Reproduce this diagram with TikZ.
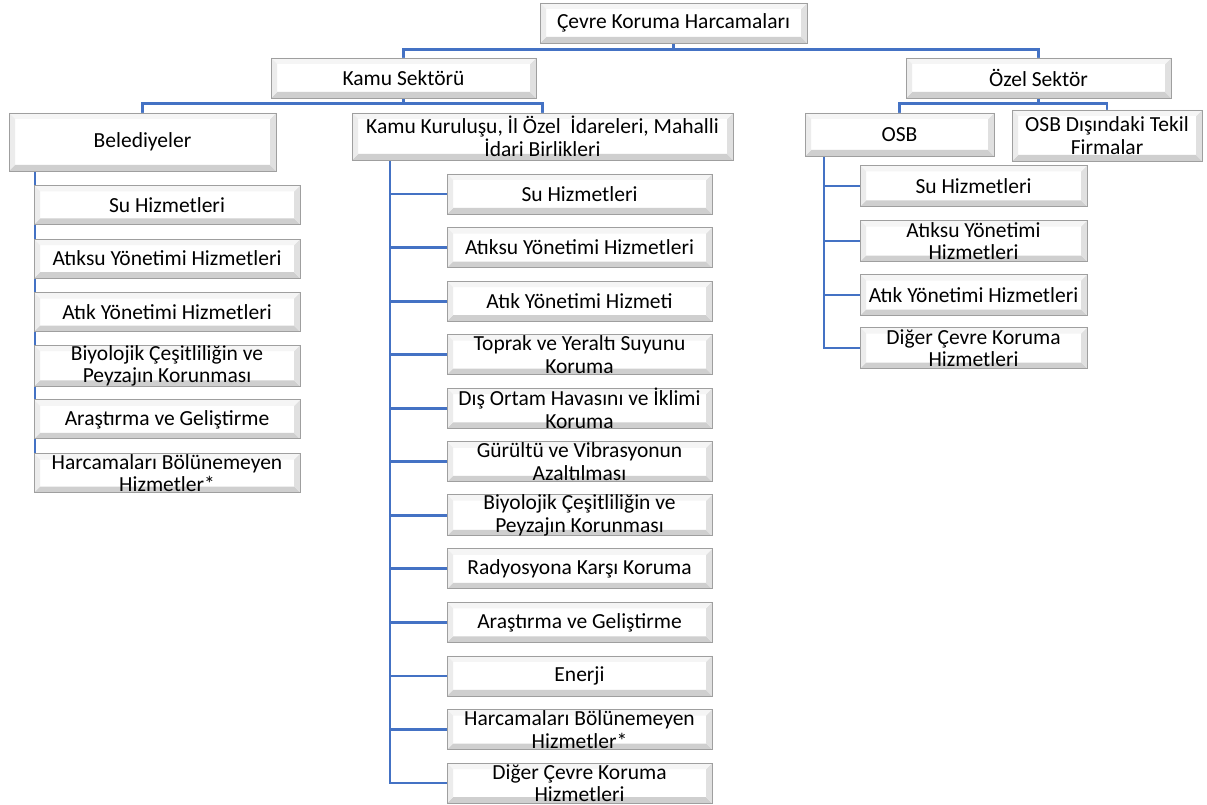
\documentclass[tikz,border=0pt]{standalone}
\usepackage{fontspec}
\setmainfont{Carlito}
\usetikzlibrary{backgrounds}
\definecolor{conn}{HTML}{4472C4}
\tikzset{
  bevel/.style={draw=gray!75, line width=0.9pt, fill=white,
    path picture={
      \coordinate (pSW) at (path picture bounding box.south west);
      \coordinate (pNE) at (path picture bounding box.north east);
      \coordinate (pSE) at (path picture bounding box.south east);
      \coordinate (pNW) at (path picture bounding box.north west);
      \fill[gray!38] (pSW) -- (pSE) -- ([shift={(-6pt,6pt)}]pSE) -- ([shift={(6pt,6pt)}]pSW) -- cycle;
      \fill[gray!24] (pSE) -- (pNE) -- ([shift={(-6pt,-6pt)}]pNE) -- ([shift={(-6pt,6pt)}]pSE) -- cycle;
      \fill[gray!8] (pNE) -- (pNW) -- ([shift={(6pt,-6pt)}]pNW) -- ([shift={(-6pt,-6pt)}]pNE) -- cycle;
      \fill[gray!15] (pNW) -- (pSW) -- ([shift={(6pt,6pt)}]pSW) -- ([shift={(6pt,-6pt)}]pNW) -- cycle;
    }},
  box/.style={bevel, inner sep=0pt, align=center,
    font=\fontsize{21.5}{22.5}\selectfont},
  conline/.style={draw=conn, line width=2.8pt},
}
\begin{document}
\begin{tikzpicture}[x=1pt,y=-1pt]
\useasboundingbox (0,0) rectangle (1207,805);

% top levels
\node[box, minimum width=267pt, minimum height=40pt] (top) at (673.5,23) {Çevre Koruma Harcamaları};
\node[box, minimum width=265pt, minimum height=40pt] (kamu) at (403.5,78) {Kamu Sektörü};
\node[box, minimum width=265pt, minimum height=40pt] (ozel) at (1038.5,78) {Özel Sektör};
\node[box, minimum width=267pt, minimum height=58pt] (bel) at (142.5,142) {Belediyeler};
\node[box, minimum width=381pt, minimum height=47pt] (kk) at (542.5,136.5) {Kamu Kuruluşu, İl Özel~ İdareleri, Mahalli\\İdari Birlikleri};
\node[box, minimum width=189pt, minimum height=43pt] (osb) at (899.5,134.5) {OSB};
\node[box, minimum width=190pt, minimum height=51pt] (tekil) at (1107,135.5) {OSB Dışındaki Tekil\\Firmalar};

% Belediyeler children
\foreach \t [count=\i] in {{Su Hizmetleri},{Atıksu Yönetimi Hizmetleri},{Atık Yönetimi Hizmetleri},{Biyolojik Çeşitliliğin ve\\Peyzajın Korunması},{Araştırma ve Geliştirme},{Harcamaları Bölünemeyen\\Hizmetler*}}
  \node[box, minimum width=266pt, minimum height=39pt] (b\i) at (167,{205+53.6*(\i-1)}) {\t};

% Kamu kurulusu children
\foreach \t [count=\i] in {{Su Hizmetleri},{Atıksu Yönetimi Hizmetleri},{Atık Yönetimi Hizmeti},{Toprak ve Yeraltı Suyunu\\Koruma},{Dış Ortam Havasını ve İklimi\\Koruma},{Gürültü ve Vibrasyonun\\Azaltılması},{Biyolojik Çeşitliliğin ve\\Peyzajın Korunması},{Radyosyona Karşı Koruma},{Araştırma ve Geliştirme},{Enerji},{Harcamaları Bölünemeyen\\Hizmetler*},{Diğer Çevre Koruma\\Hizmetleri}}
  \node[box, minimum width=265pt, minimum height=40pt] (k\i) at (579.5,{194+53.55*(\i-1)}) {\t};

% OSB children
\node[box, minimum width=227pt, minimum height=41pt] (o1) at (973.5,186) {Su Hizmetleri};
\node[box, minimum width=227pt, minimum height=41pt] (o2) at (973.5,241) {Atıksu Yönetimi\\Hizmetleri};
\node[box, minimum width=227pt, minimum height=41pt] (o3) at (973.5,295) {Atık Yönetimi Hizmetleri};
\node[box, minimum width=227pt, minimum height=41pt] (o4) at (973.5,348) {Diğer Çevre Koruma\\Hizmetleri};

\coordinate (bv) at (35,171);
\coordinate (kv) at (390,160);
\coordinate (ov) at (824,156);

\begin{pgfonlayer}{background}
  \draw[conline] (top.south) -- ++(0,7);
  \draw[conline] (kamu.north) -- ++(0,-8) -| (ozel.north);
  \draw[conline] (kamu.south) -- ++(0,6);
  \draw[conline] (bel.north) -- ++(0,-9) -| (kk.north);
  \draw[conline] (ozel.south) -- ++(0,6);
  \draw[conline] (osb.north) -- ++(0,-9) -| (tekil.north);
  \draw[conline] (bv) |- (b6.west);
  \foreach \i in {1,...,12} \draw[conline] (kv) |- (k\i.west);
  \foreach \i in {1,...,4} \draw[conline] (ov) |- (o\i.west);
\end{pgfonlayer}
\end{tikzpicture}
\end{document}
